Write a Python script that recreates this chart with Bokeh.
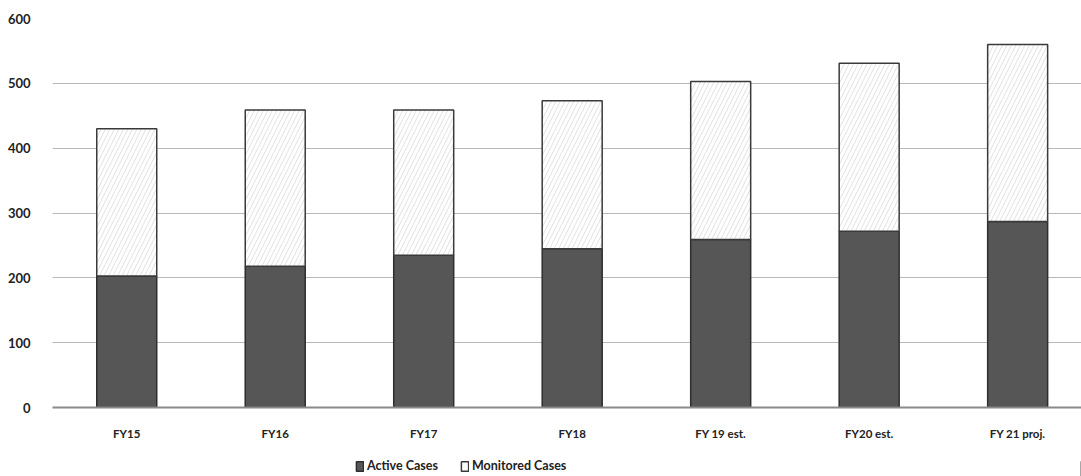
from bokeh.plotting import figure
from bokeh.layouts import column
from bokeh.models import ColumnDataSource, Legend, LegendItem, FixedTicker, Range1d
from bokeh.embed import file_html
from bokeh.resources import INLINE

years = ["FY15", "FY16", "FY17", "FY18", "FY 19 est.", "FY20 est.", "FY 21 proj."]
active = [203, 218, 235, 245, 259, 272, 287]
monitored = [227, 241, 224, 228, 244, 259, 273]
y_ticks = [0, 100, 200, 300, 400, 500, 600]

idx = list(range(len(years)))
total = [a + m for a, m in zip(active, monitored)]
src = ColumnDataSource(dict(x=idx, active=active, monitored=monitored, total=total,
                            zero=[0] * len(years)))

FONT = "Lato"
DARK = "#565656"

p = figure(x_range=Range1d(-0.5, 6.43), y_range=Range1d(0, 600), width=1081, height=446,
           output_backend="svg", toolbar_location=None,
           min_border_left=52, min_border_top=18, min_border_right=0, min_border_bottom=39)
p.outline_line_color = None

p.yaxis.ticker = FixedTicker(ticks=y_ticks)
p.yaxis.axis_line_color = None
p.yaxis.major_tick_line_color = None
p.yaxis.minor_tick_line_color = None
p.yaxis.major_label_text_font = FONT
p.yaxis.major_label_text_font_style = "bold"
p.yaxis.major_label_text_font_size = "13px"
p.yaxis.major_label_text_color = "#222222"
p.yaxis.major_label_standoff = 16

p.xaxis.ticker = FixedTicker(ticks=idx)
p.xaxis.major_label_overrides = {i: lab for i, lab in zip(idx, years)}
p.xaxis.axis_line_color = "#8a8a8a"
p.xaxis.axis_line_width = 2
p.xaxis.major_tick_line_color = None
p.xaxis.minor_tick_line_color = None
p.xaxis.major_label_text_font = FONT
p.xaxis.major_label_text_font_style = "bold"
p.xaxis.major_label_text_font_size = "11.5px"
p.xaxis.major_label_text_color = "#222222"
p.xaxis.major_label_standoff = 13

p.xgrid.grid_line_color = None
p.ygrid.grid_line_color = "#b8b8b8"
p.ygrid.grid_line_width = 1

p.vbar(x="x", bottom="zero", top="active", width=0.404, source=src,
       fill_color=DARK, line_color="#2e2e2e", line_width=1.5)
p.vbar(x="x", bottom="active", top="total", width=0.404, source=src,
       fill_color="white", line_color="#3a3a3a", line_width=1.5,
       hatch_pattern="right_diagonal_line", hatch_color="#e0e0e0",
       hatch_scale=9, hatch_weight=1)

# legend strip below the chart
lg = figure(x_range=Range1d(0, 1), y_range=Range1d(0, 1), width=1081, height=30,
            output_backend="svg", toolbar_location=None,
            x_axis_location=None, y_axis_location=None,
            min_border_left=0, min_border_right=0, min_border_top=0, min_border_bottom=0)
lg.grid.visible = False
lg.outline_line_color = None
hidden = ColumnDataSource(dict(x=[5.0], top=[0.5]))
la = lg.vbar(x="x", top="top", width=0.1, source=hidden,
             fill_color=DARK, line_color="#2e2e2e", line_width=1.5)
lm = lg.vbar(x="x", top="top", width=0.1, source=hidden,
             fill_color="white", line_color="#3a3a3a", line_width=1.5)

legend = Legend(items=[LegendItem(label="Active Cases", renderers=[la]),
                       LegendItem(label="Monitored Cases", renderers=[lm])],
                orientation="horizontal", location=(303, 3))
legend.border_line_color = None
legend.background_fill_alpha = 0
legend.label_text_font = FONT
legend.label_text_font_style = "bold"
legend.label_text_font_size = "12.5px"
legend.label_text_color = "#222222"
legend.glyph_width = 9
legend.glyph_height = 12
legend.spacing = 22
legend.padding = 2
legend.margin = 0
legend.label_standoff = 3
lg.add_layout(legend, "center")

layout = column(p, lg, spacing=0)
open("out.html", "w").write(file_html(layout, INLINE))
